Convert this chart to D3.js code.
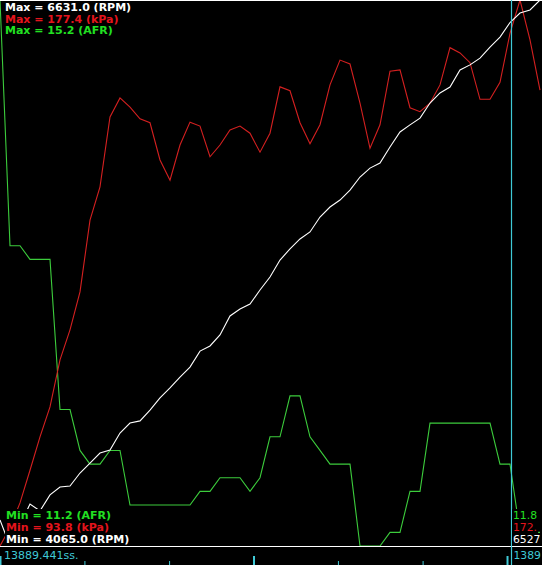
<!DOCTYPE html>
<html><head><meta charset="utf-8">
<script src="https://cdn.jsdelivr.net/npm/d3@7/dist/d3.min.js"></script>
<style>
html,body{margin:0;padding:0;background:#000;overflow:hidden;}
svg{display:block;}
</style></head>
<body>
<script>
// ---- data (one sample every ~0.04 s) ----
const afr = [15.2,13.4,13.4,13.3,13.3,13.3,12.2,12.2,11.9,11.8,11.8,11.9,11.9,11.5,11.5,11.5,11.5,11.5,11.5,11.5,
  11.6,11.6,11.7,11.7,11.7,11.6,11.7,12.0,12.0,12.3,12.3,12.0,11.9,11.8,11.8,11.8,11.2,11.2,11.2,11.3,
  11.3,11.6,11.6,12.1,12.1,12.1,12.1,12.1,12.1,12.1,11.8,11.8,11.3,11.3,11.3];
const kpa = [93.8,96.6,100.4,105.4,110.5,115.1,122.3,126.9,132.7,143.7,148.8,159.5,162.4,161.0,159.2,158.6,152.9,149.8,155.2,158.7,
  158.1,153.4,155.2,157.5,158.1,157.0,154.1,157.0,164.1,163.5,158.6,155.4,158.3,164.4,168.2,167.6,161.6,154.7,158.3,166.5,
  166.7,160.9,160.3,161.6,164.4,170.1,169.3,167.8,162.2,162.2,164.8,172.3,177.4,171.3,163.6];
const rpm = [4187,4065,4164,4262,4230,4305,4342,4347,4408,4455,4502,4516,4596,4643,4653,4704,4761,4808,4859,4906,
  4981,5005,5057,5146,5179,5202,5268,5329,5409,5461,5508,5541,5611,5658,5691,5738,5799,5841,5865,5940,
  6011,6044,6076,6147,6194,6222,6302,6326,6358,6410,6457,6525,6570,6584,6631];
const seriesNames = ["RPM","kPa","AFR"];
const cursorIndex = 51.1;
const cursorValues = ["11.8", "172.", "6527"];   // AFR, kPa, RPM read-out at cursor (as visible)
const timeStart = 13889.441;
const timeEnd = 13891.579;
const majorTicks = [13889.441, 13890.441, 13891.441];
const minorTicks = [13889.774, 13890.108, 13890.774, 13891.108];

// ---- layout ----
const W = 542, H = 565, plotBottom = 546;
const C = {rpm:"#ffffff", kpa:"#d42020", afr:"#3ccc3c", kpaText:"#e4141c", afrText:"#22e022", cyan:"#3fc9d6"};

const svg = d3.select("body").append("svg").attr("width", W).attr("height", H)
  .style("font-family", "'DejaVu Sans', Verdana, sans-serif");
svg.append("rect").attr("width", W).attr("height", H).attr("fill", "#000");

const x = d3.scaleLinear().domain([0, 54.2]).range([0, W]);
const yR = d3.scaleLinear().domain(d3.extent(rpm)).range([plotBottom, 0]);
const yK = d3.scaleLinear().domain(d3.extent(kpa)).range([plotBottom, 0]);
const yA = d3.scaleLinear().domain(d3.extent(afr)).range([plotBottom, 0]);

svg.append("clipPath").attr("id","pc").append("rect").attr("x",0).attr("y",0).attr("width",W).attr("height",plotBottom);
const g = svg.append("g").attr("clip-path","url(#pc)");
function drawLine(data, y, col){
  g.append("path").datum(data)
    .attr("d", d3.line().x((d,i)=>x(i)).y(d=>y(d)))
    .attr("fill","none").attr("stroke",col).attr("stroke-width",1.1);
}
drawLine(afr, yA, C.afr);
drawLine(kpa, yK, C.kpa);
drawLine(rpm, yR, C.rpm);

// borders
svg.append("line").attr("x1",0).attr("x2",W).attr("y1",0.5).attr("y2",0.5).attr("stroke","#fff");
svg.append("line").attr("x1",0).attr("x2",W).attr("y1",plotBottom+0.5).attr("y2",plotBottom+0.5).attr("stroke","#fff");

// time axis ticks
const t = d3.scaleLinear().domain([timeStart, timeEnd]).range([0, W]);
const axMinor = svg.append("g").attr("transform",`translate(0,${H})`)
  .call(d3.axisTop(t).tickValues(minorTicks).tickSize(4).tickFormat(""));
const axMajor = svg.append("g").attr("transform",`translate(0,${H})`)
  .call(d3.axisTop(t).tickValues(majorTicks).tickSize(9).tickFormat(""));
[axMinor, axMajor].forEach(a=>{ a.select(".domain").remove(); a.selectAll("line").attr("stroke",C.cyan); });
axMajor.selectAll("line").attr("stroke-width",2);

// cursor
const cx = Math.round(x(cursorIndex)) + 0.5;
svg.append("line").attr("x1",cx).attr("x2",cx).attr("y1",0).attr("y2",H).attr("stroke",C.cyan).attr("stroke-width",1.2);

// labels with black boxes
function label(txt, lx, ly, col, weight, size){
  const grp = svg.append("g");
  const r = grp.append("rect").attr("fill","#000");
  const tt = grp.append("text").attr("x",lx).attr("y",ly).attr("fill",col)
    .attr("font-size",size).attr("font-weight",weight).text(txt);
  const b = tt.node().getBBox();
  r.attr("x",b.x-1).attr("y",b.y).attr("width",b.width+2).attr("height",b.height);
}
const fs = 11;
label(`Max = ${d3.max(rpm).toFixed(1)} (${seriesNames[0]})`, 5, 11, C.rpm, "bold", fs);
label(`Max = ${d3.max(kpa).toFixed(1)} (${seriesNames[1]})`, 5, 22.5, C.kpaText, "bold", fs);
label(`Max = ${d3.max(afr).toFixed(1)} (${seriesNames[2]})`, 5, 34, C.afrText, "bold", fs);
label(`Min = ${d3.min(afr).toFixed(1)} (${seriesNames[2]})`, 6, 519, C.afrText, "bold", fs);
label(`Min = ${d3.min(kpa).toFixed(1)} (${seriesNames[1]})`, 6, 531, C.kpaText, "bold", fs);
label(`Min = ${d3.min(rpm).toFixed(1)} (${seriesNames[0]})`, 6, 543, C.rpm, "bold", fs);

label(cursorValues[0], 513, 519, C.afrText, "normal", 10.8);
label(cursorValues[1], 513, 531, C.kpaText, "normal", 10.8);
label(cursorValues[2], 513, 543, C.rpm, "normal", 10.8);

svg.append("text").attr("x",4).attr("y",559).attr("fill",C.cyan).attr("font-size",11)
  .text(`${timeStart.toFixed(3)}ss.`);
svg.append("text").attr("x",cx+2).attr("y",559).attr("fill",C.cyan).attr("font-size",10.8)
  .text(t.invert(cx).toFixed(3).slice(0,4));
</script>
</body></html>
